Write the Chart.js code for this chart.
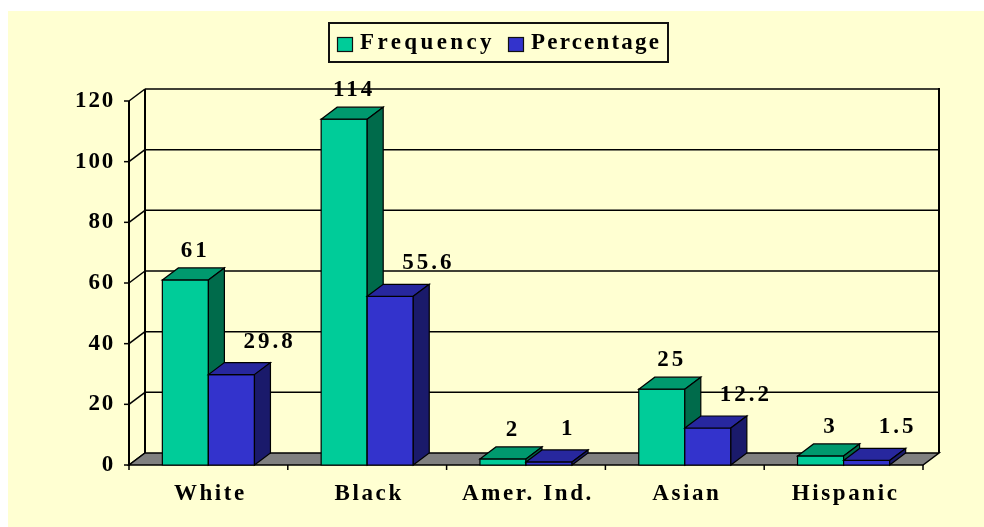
<!DOCTYPE html>
<html><head><meta charset="utf-8">
<script src="https://cdn.jsdelivr.net/npm/chart.js@4.4.1/dist/chart.umd.min.js"></script>
<style>html,body{margin:0;padding:0;background:#fff;overflow:hidden}</style>
</head><body>
<canvas id="c" width="984" height="527"></canvas>
<script>
// ---- data ----
const categories = ['White', 'Black', 'Amer. Ind.', 'Asian', 'Hispanic'];
const frequency = [61, 114, 2, 25, 3];
const percentage = [29.8, 55.6, 1, 12.2, 1.5];
const frequencyLabels = ['61', '114', '2', '25', '3'];
const percentageLabels = ['29.8', '55.6', '1', '12.2', '1.5'];
const yTicks = [0, 20, 40, 60, 80, 100, 120];
const seriesNames = ['Frequency', 'Percentage'];

// ---- style ----
const DX = 16, DY = -12;
const FONT = 'bold 23px "Liberation Serif", "Times New Roman", serif';
const BG = '#FFFFD2';
const COLORS = [
  {front: '#00CC99', top: '#00996E', side: '#006B4B'},
  {front: '#3333CC', top: '#27279E', side: '#1A1A6B'}
];

function poly(ctx, pts, fill) {
  ctx.beginPath();
  ctx.moveTo(pts[0][0], pts[0][1]);
  for (let i = 1; i < pts.length; i++) ctx.lineTo(pts[i][0], pts[i][1]);
  ctx.closePath();
  ctx.fillStyle = fill; ctx.fill();
  ctx.stroke();
}
function line(ctx, x0, y0, x1, y1) {
  ctx.beginPath(); ctx.moveTo(x0, y0); ctx.lineTo(x1, y1); ctx.stroke();
}
function text(ctx, s, x, y, align, spacing) {
  ctx.save();
  ctx.font = FONT;
  ctx.letterSpacing = spacing + 'px';
  ctx.fillStyle = '#000';
  ctx.textBaseline = 'middle';
  ctx.textAlign = align;
  ctx.fillText(s, x, y);
  ctx.restore();
}

const threeD = {
  id: 'threeD',
  beforeDraw(chart) {
    const ctx = chart.ctx, a = chart.chartArea;
    const ys = chart.scales.y;
    ctx.save();
    ctx.fillStyle = '#fff'; ctx.fillRect(0, 0, chart.width, chart.height);
    ctx.fillStyle = BG; ctx.fillRect(8, 11, chart.width - 8, chart.height - 11);

    const y0 = ys.getPixelForValue(0), yTop = ys.getPixelForValue(120);
    ctx.strokeStyle = '#000'; ctx.lineWidth = 1.5;
    yTicks.forEach(v => {
      const y = ys.getPixelForValue(v) + DY;
      if (v > 0) line(ctx, a.left + DX, y, a.right + DX, y);
      line(ctx, a.left, ys.getPixelForValue(v), a.left + DX, y);
      line(ctx, a.left - 5, ys.getPixelForValue(v), a.left, ys.getPixelForValue(v));
    });
    ctx.lineWidth = 2;
    line(ctx, a.left + DX, yTop + DY, a.left + DX, y0 + DY);
    line(ctx, a.right + DX, yTop + DY - 1, a.right + DX, y0 + DY);
    line(ctx, a.left, yTop, a.left, y0 + 1);
    ctx.lineWidth = 1.5;
    poly(ctx, [[a.left, y0], [a.right, y0], [a.right + DX, y0 + DY], [a.left + DX, y0 + DY]], '#808080');
    const cw = (a.right - a.left) / categories.length;
    for (let i = 0; i <= categories.length; i++) {
      const x = a.left + i * cw;
      line(ctx, x, y0, x, y0 + 5);
    }
    ctx.restore();
  },
  afterDatasetsDraw(chart) {
    const ctx = chart.ctx, a = chart.chartArea;
    const ys = chart.scales.y, xs = chart.scales.x;
    const metas = [chart.getDatasetMeta(0), chart.getDatasetMeta(1)];
    ctx.save();
    ctx.strokeStyle = '#000'; ctx.lineWidth = 1.2; ctx.lineJoin = 'miter';
    for (let i = 0; i < categories.length; i++) {
      metas.forEach((m, d) => {
        const p = m.data[i].getProps(['x', 'y', 'base', 'width'], true);
        const x0 = p.x - p.width / 2, x1 = p.x + p.width / 2;
        const c = COLORS[d];
        poly(ctx, [[x0, p.y], [x1, p.y], [x1, p.base], [x0, p.base]], c.front);
        poly(ctx, [[x0, p.y], [x0 + DX, p.y + DY], [x1 + DX, p.y + DY], [x1, p.y]], c.top);
        poly(ctx, [[x1, p.y], [x1 + DX, p.y + DY], [x1 + DX, p.base + DY], [x1, p.base]], c.side);
      });
    }
    metas.forEach((m, d) => {
      m.data.forEach((el, i) => {
        const p = el.getProps(['x', 'y'], true);
        if (d === 0) text(ctx, frequencyLabels[i], p.x + 10, p.y - 29, 'center', 3);
        else text(ctx, percentageLabels[i], p.x + 12, p.y - 33, 'left', 3);
      });
    });
    yTicks.forEach(v => text(ctx, String(v), a.left - 14, ys.getPixelForValue(v), 'right', 1.8));
    categories.forEach((c, i) => text(ctx, c, xs.getPixelForValue(i) + 2, 494, 'center', 2.6));
    // legend
    ctx.fillStyle = BG; ctx.strokeStyle = '#111'; ctx.lineWidth = 2;
    ctx.fillRect(329, 23, 339, 39); ctx.strokeRect(329, 23, 339, 39);
    ctx.lineWidth = 1.2;
    ctx.fillStyle = COLORS[0].front; ctx.fillRect(337.5, 37.5, 15, 14); ctx.strokeRect(337.5, 37.5, 15, 14);
    ctx.fillStyle = COLORS[1].front; ctx.fillRect(508.5, 37.5, 15, 14); ctx.strokeRect(508.5, 37.5, 15, 14);
    text(ctx, seriesNames[0], 360, 43, 'left', 3.4);
    text(ctx, seriesNames[1], 531, 43, 'left', 2.2);
    ctx.restore();
  }
};

new Chart(document.getElementById('c').getContext('2d'), {
  type: 'bar',
  data: {
    labels: categories,
    datasets: [
      {label: seriesNames[0], data: frequency, backgroundColor: 'rgba(0,0,0,0)', categoryPercentage: 0.58, barPercentage: 1},
      {label: seriesNames[1], data: percentage, backgroundColor: 'rgba(0,0,0,0)', categoryPercentage: 0.58, barPercentage: 1}
    ]
  },
  options: {
    responsive: false, animation: false, devicePixelRatio: 1, events: [],
    layout: {padding: {left: 129, right: 61, top: 101, bottom: 62}},
    plugins: {legend: {display: false}, tooltip: {enabled: false}},
    scales: {
      x: {display: false},
      y: {display: false, min: 0, max: 120}
    }
  },
  plugins: [threeD]
});
</script>
</body></html>
